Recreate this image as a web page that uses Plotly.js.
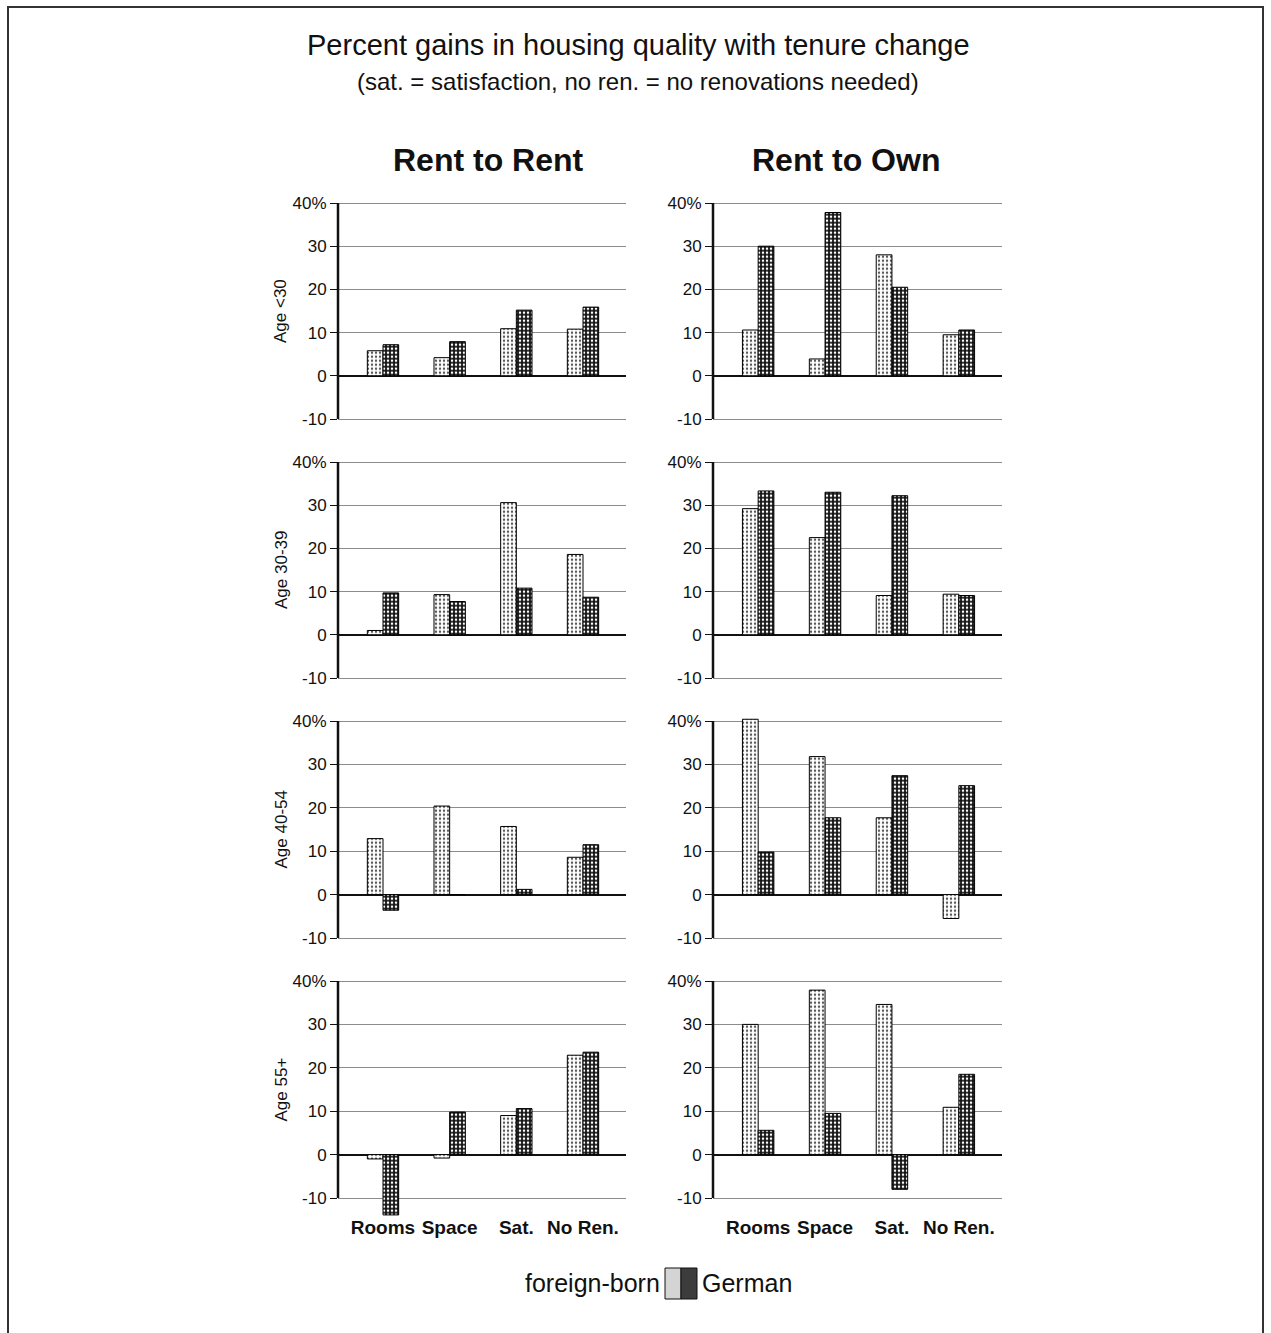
<!DOCTYPE html>
<html>
<head>
<meta charset="utf-8">
<script src="https://cdn.plot.ly/plotly-3.0.1.min.js"></script>
<style>html,body{margin:0;padding:0;background:#fff;}#chart{width:1271px;height:1333px;}</style>
</head>
<body>
<div id="chart"></div>
<script>
// ---- data ----
var categories = ['Rooms', 'Space', 'Sat.', 'No Ren.'];
var ageGroups = ['Age <30', 'Age 30-39', 'Age 40-54', 'Age 55+'];
var columnTitles = ['Rent to Rent', 'Rent to Own'];
var seriesNames = ['foreign-born', 'German'];
var yTickVals = [-10, 0, 10, 20, 30, 40];
var yTickText = ['-10', '0', '10', '20', '30', '40%'];

var rentRentForeignU30 = [5.8, 4.2, 10.9, 10.8];
var rentRentGermanU30 = [7.2, 7.9, 15.2, 15.9];
var rentOwnForeignU30 = [10.6, 3.9, 28.0, 9.5];
var rentOwnGermanU30 = [30.0, 37.8, 20.5, 10.6];

var rentRentForeign3039 = [1.0, 9.3, 30.6, 18.6];
var rentRentGerman3039 = [9.7, 7.7, 10.8, 8.7];
var rentOwnForeign3039 = [29.2, 22.5, 9.1, 9.4];
var rentOwnGerman3039 = [33.3, 33.0, 32.2, 9.1];

var rentRentForeign4054 = [12.9, 20.4, 15.7, 8.6];
var rentRentGerman4054 = [-3.6, 0, 1.2, 11.5];
var rentOwnForeign4054 = [40.4, 31.8, 17.7, -5.5];
var rentOwnGerman4054 = [9.8, 17.7, 27.4, 25.1];

var rentRentForeign55 = [-1.0, -0.8, 9.0, 22.9];
var rentRentGerman55 = [-13.9, 9.8, 10.6, 23.6];
var rentOwnForeign55 = [30.0, 37.9, 34.6, 10.9];
var rentOwnGerman55 = [5.6, 9.5, -8.0, 18.5];

var panelData = [
  [[rentRentForeignU30, rentRentGermanU30], [rentOwnForeignU30, rentOwnGermanU30]],
  [[rentRentForeign3039, rentRentGerman3039], [rentOwnForeign3039, rentOwnGerman3039]],
  [[rentRentForeign4054, rentRentGerman4054], [rentOwnForeign4054, rentOwnGerman4054]],
  [[rentRentForeign55, rentRentGerman55], [rentOwnForeign55, rentOwnGerman55]]
];

// ---- layout helpers (pixel -> paper) ----
var W = 1271, H = 1333;
function px(x) { return x / W; }
function py(y) { return 1 - y / H; }

var colX = [[338, 626], [713, 1002]];
var rowY = [[203, 419], [462, 678], [721, 938], [981, 1198]];
var axisMin = -10, axisMax = 40;      // drawn axis extent
var rangeMin = -14.5, rangeMax = 41;  // room for bars beyond the axis

var FONT = 'Liberation Sans, Arial, Helvetica, sans-serif';

var patterns = [
  {shape: '.', bgcolor: '#ffffff', fgcolor: '#555555', size: 4, solidity: 0.28},
  {shape: '.', bgcolor: '#151515', fgcolor: '#ffffff', size: 4, solidity: 0.3}
];

var traces = [];
var layout = {
  width: W, height: H,
  margin: {l: 0, r: 0, t: 0, b: 0},
  paper_bgcolor: '#ffffff',
  plot_bgcolor: 'rgba(0,0,0,0)',
  showlegend: false,
  barmode: 'group',
  bargap: 0.53,
  bargroupgap: 0,
  font: {family: FONT, color: '#111'},
  annotations: [],
  shapes: []
};

for (var r = 0; r < 4; r++) {
  var scale = (rowY[r][1] - rowY[r][0]) / (axisMax - axisMin);
  var domTop = rowY[r][0] - (rangeMax - axisMax) * scale;
  var domBot = rowY[r][1] + (axisMin - rangeMin) * scale;
  for (var c = 0; c < 2; c++) {
    var idx = r * 2 + c + 1;
    var xa = idx === 1 ? 'x' : 'x' + idx;
    var ya = idx === 1 ? 'y' : 'y' + idx;
    for (var s = 0; s < 2; s++) {
      traces.push({
        type: 'bar',
        x: categories,
        y: panelData[r][c][s],
        name: seriesNames[s],
        xaxis: xa, yaxis: ya,
        marker: {
          color: patterns[s].bgcolor,
          pattern: patterns[s],
          line: {color: '#000', width: 1}
        },
        hoverinfo: 'skip'
      });
    }
    var xkey = idx === 1 ? 'xaxis' : 'xaxis' + idx;
    var ykey = idx === 1 ? 'yaxis' : 'yaxis' + idx;
    layout[xkey] = {
      domain: [px(colX[c][0]), px(colX[c][1])],
      anchor: 'free',
      position: py(rowY[r][1]),
      type: 'category',
      categoryarray: categories,
      range: [-0.675, 3.645],
      showgrid: false, zeroline: false, showline: false,
      showticklabels: r === 3,
      ticks: r === 3 ? 'outside' : '',
      ticklen: 12, tickcolor: 'rgba(0,0,0,0)',
      tickfont: {family: FONT, size: 19, color: '#111', weight: 'bold'},
      fixedrange: true
    };
    layout[ykey] = {
      domain: [py(domBot), py(domTop)],
      anchor: xa,
      range: [rangeMin, rangeMax],
      tickvals: yTickVals,
      ticktext: yTickText,
      ticks: 'outside', ticklen: 7, tickwidth: 1, tickcolor: '#111',
      tickfont: {family: FONT, size: 17, color: '#111'},
      showline: false,
      showgrid: true, gridcolor: '#8c8c8c', gridwidth: 1,
      zeroline: true, zerolinecolor: '#111', zerolinewidth: 2,
      fixedrange: true
    };
    // vertical axis line spanning only -10 .. 40
    layout.shapes.push({
      type: 'line', xref: xa + ' domain', yref: ya,
      x0: 0, x1: 0, y0: axisMin, y1: axisMax,
      line: {color: '#111', width: 2.5}
    });
  }
  layout.annotations.push({
    text: ageGroups[r], textangle: -90,
    xref: 'paper', yref: 'paper',
    x: px(281), y: py((rowY[r][0] + rowY[r][1]) / 2),
    xanchor: 'center', yanchor: 'middle', showarrow: false,
    font: {family: FONT, size: 17, color: '#111'}
  });
}

// main titles
layout.annotations.push({
  text: 'Percent gains in housing quality with tenure change',
  xref: 'paper', yref: 'paper', x: px(638), y: py(45),
  xanchor: 'center', yanchor: 'middle', showarrow: false,
  font: {family: FONT, size: 29, color: '#111'}
});
layout.annotations.push({
  text: '(sat. = satisfaction, no ren. = no renovations needed)',
  xref: 'paper', yref: 'paper', x: px(638), y: py(82),
  xanchor: 'center', yanchor: 'middle', showarrow: false,
  font: {family: FONT, size: 24, color: '#111'}
});
var colTitleX = [488, 846];
for (var c2 = 0; c2 < 2; c2++) {
  layout.annotations.push({
    text: columnTitles[c2],
    xref: 'paper', yref: 'paper', x: px(colTitleX[c2]), y: py(160),
    xanchor: 'center', yanchor: 'middle', showarrow: false,
    font: {family: FONT, size: 32, color: '#111', weight: 'bold'}
  });
}

// legend (text + swatches)
layout.annotations.push({
  text: seriesNames[0], xref: 'paper', yref: 'paper', x: px(662), y: py(1283),
  xanchor: 'right', yanchor: 'middle', showarrow: false,
  font: {family: FONT, size: 25, color: '#111'}
});
layout.annotations.push({
  text: seriesNames[1], xref: 'paper', yref: 'paper', x: px(700), y: py(1283),
  xanchor: 'left', yanchor: 'middle', showarrow: false,
  font: {family: FONT, size: 25, color: '#111'}
});
layout.shapes.push({type: 'rect', xref: 'paper', yref: 'paper',
  x0: px(665), x1: px(681), y0: py(1299), y1: py(1268),
  fillcolor: '#d4d4d4', line: {color: '#111', width: 1}});
layout.shapes.push({type: 'rect', xref: 'paper', yref: 'paper',
  x0: px(681), x1: px(697), y0: py(1299), y1: py(1268),
  fillcolor: '#3c3c3c', line: {color: '#111', width: 1}});

// outer frame
layout.shapes.push({type: 'rect', xref: 'paper', yref: 'paper',
  x0: px(8), x1: px(1263), y0: py(1345), y1: py(7),
  fillcolor: 'rgba(0,0,0,0)', line: {color: '#333', width: 2}});

Plotly.newPlot('chart', traces, layout, {staticPlot: true, displayModeBar: false});
</script>
</body>
</html>
